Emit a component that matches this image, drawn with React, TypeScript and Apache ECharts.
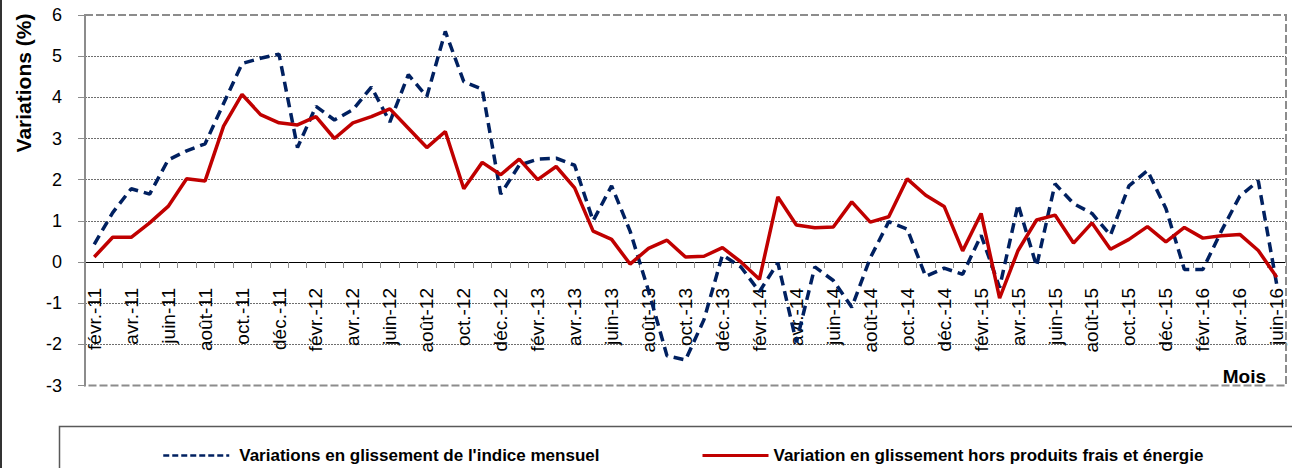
import React, { useEffect, useRef } from "react";
import * as echarts from "echarts";

const monthNames = ["janv.", "févr.", "mars", "avr.", "mai", "juin", "juil.", "août", "sept.", "oct.", "nov.", "déc."];
const startYear = 11;
const startMonth = 1; // févr.
const monthCount = 65; // févr.-11 .. juin-16

const categories: string[] = [];
for (let i = 0; i < monthCount; i++) {
  const m = (startMonth + i) % 12;
  const y = startYear + Math.floor((startMonth + i) / 12);
  categories.push(`${monthNames[m]}-${y}`);
}

const headlineName = "Variations en glissement de l'indice mensuel";
const coreName = "Variation en glissement hors produits frais et énergie";

const headline = [
  0.43, 1.2, 1.78, 1.65, 2.48, 2.7, 2.87, 3.85, 4.82, 4.95, 5.05, 2.78,
  3.78, 3.45, 3.7, 4.25, 3.4, 4.55, 4.02, 5.6, 4.38, 4.2, 1.65, 2.35,
  2.5, 2.52, 2.35, 1.0, 1.85, 0.75, -0.7, -2.28, -2.38, -1.4, 0.17, -0.12,
  -0.72, -0.02, -1.95, -0.12, -0.45, -1.1, 0.1, 0.98, 0.8, -0.35, -0.15, -0.3,
  0.65, -0.62, 1.4, -0.1, 1.9, 1.42, 1.18, 0.65, 1.85, 2.22, 1.3, -0.18,
  -0.18, 0.75, 1.6, 1.97, -0.55,
];

const core = [
  0.12, 0.6, 0.6, 0.95, 1.35, 2.02, 1.97, 3.3, 4.07, 3.58, 3.38, 3.33,
  3.53, 3.0, 3.38, 3.53, 3.72, 3.25, 2.78, 3.17, 1.78, 2.42, 2.12, 2.5,
  2.0, 2.32, 1.8, 0.75, 0.55, -0.05, 0.33, 0.53, 0.12, 0.14, 0.35, 0.0,
  -0.42, 1.58, 0.9, 0.83, 0.85, 1.46, 0.97, 1.1, 2.02, 1.62, 1.35, 0.27,
  1.18, -0.88, 0.28, 1.02, 1.14, 0.46, 0.95, 0.31, 0.55, 0.86, 0.49, 0.84,
  0.58, 0.64, 0.67, 0.28, -0.37,
];

const yMin = -3;
const yMax = 6;

const FONT = "'Liberation Sans', Arial, sans-serif";

const GRID_TOP = 15;
const GRID_BOTTOM = 82.5;
const CHART_H = 468;

export default function App() {
  const ref = useRef<HTMLDivElement>(null);
  useEffect(() => {
    if (!ref.current) return;
    const chart = echarts.init(ref.current, null, { renderer: "svg" });
    const gridColors: string[] = [];
    for (let v = yMin; v <= yMax; v++) {
      gridColors.push(v === yMin || v === yMax ? "rgba(0,0,0,0)" : "#6e6e6e");
    }
    // place the category axis line on the value 0 (axis crosses at zero)
    const plotH = CHART_H - GRID_TOP - GRID_BOTTOM;
    const zeroFromBottom = ((0 - yMin) / (yMax - yMin)) * plotH;
    chart.setOption({
      animation: false,
      backgroundColor: "#ffffff",
      grid: {
        left: 85,
        right: 6,
        top: GRID_TOP,
        bottom: GRID_BOTTOM,
        containLabel: false,
        outerBoundsMode: "none",
      },
      xAxis: {
        type: "category",
        data: categories,
        boundaryGap: true,
        position: "bottom",
        offset: -zeroFromBottom,
        axisLine: { onZero: false, lineStyle: { color: "#000000", width: 1 } },
        axisTick: { show: true, interval: 0, length: 6, lineStyle: { color: "#8c8c8c", width: 1 } },
        axisLabel: {
          interval: 1,
          rotate: 90,
          margin: 26,
          color: "#000000",
          fontFamily: FONT,
          fontSize: 19,
        },
        splitLine: { show: false },
      },
      yAxis: {
        type: "value",
        min: yMin,
        max: yMax,
        interval: 1,
        axisLine: { show: true, onZero: false, lineStyle: { color: "#8c8c8c", width: 2 } },
        axisTick: { show: true, length: 7, lineStyle: { color: "#8c8c8c", width: 1 } },
        axisLabel: { margin: 23, color: "#000000", fontFamily: FONT, fontSize: 18 },
        splitLine: { show: true, lineStyle: { color: gridColors, type: [2, 1], width: 1 } },
      },
      legend: [
        {
          data: [headlineName],
          left: 157,
          top: 442,
          itemWidth: 66,
          itemHeight: 14,
          lineStyle: { width: 2.5, type: [6, 3] },
          itemStyle: { color: "rgba(0,0,0,0)", borderWidth: 0, opacity: 0 },
          textStyle: { fontFamily: FONT, fontSize: 17, fontWeight: "bold", color: "#000000", padding: [0, 0, 0, 5] },
        },
        {
          data: [coreName],
          left: 696,
          top: 442,
          itemWidth: 66,
          itemHeight: 14,
          lineStyle: { width: 3 },
          itemStyle: { color: "rgba(0,0,0,0)", borderWidth: 0, opacity: 0 },
          textStyle: { fontFamily: FONT, fontSize: 17, fontWeight: "bold", color: "#000000", padding: [0, 0, 0, 0] },
        },
      ],
      graphic: [
        {
          type: "rect",
          z: 5,
          silent: true,
          shape: { x: 85, y: 15, width: 1201, height: 370.5 },
          style: { fill: "none", stroke: "#8c8c8c", lineWidth: 2, lineDash: [8, 3] },
        },
        {
          type: "rect",
          silent: true,
          shape: { x: 59.5, y: 426.5, width: 1300, height: 100 },
          style: { fill: "none", stroke: "#595959", lineWidth: 1.5 },
        },
        {
          type: "line",
          silent: true,
          shape: { x1: 1, y1: 0, x2: 1, y2: 468 },
          style: { stroke: "#333333", lineWidth: 2 },
        },
        {
          type: "text",
          silent: true,
          x: 23,
          y: 83,
          rotation: Math.PI / 2,
          style: {
            text: "Variations (%)",
            font: `bold 21px ${FONT}`,
            fill: "#000000",
            textAlign: "center",
            textVerticalAlign: "middle",
          },
        },
        {
          type: "text",
          silent: true,
          x: 1266,
          y: 386,
          style: {
            text: "Mois",
            font: `bold 19px ${FONT}`,
            fill: "#000000",
            textAlign: "right",
            textVerticalAlign: "bottom",
          },
        },
      ],
      series: [
        {
          name: headlineName,
          type: "line",
          data: headline,
          symbol: "none",
          z: 3,
          lineStyle: { color: "#002060", width: 3.5, type: [10, 6] },
          itemStyle: { color: "#002060" },
        },
        {
          name: coreName,
          type: "line",
          data: core,
          symbol: "none",
          z: 4,
          lineStyle: { color: "#C00000", width: 3.5 },
          itemStyle: { color: "#C00000" },
        },
      ],
    });
    return () => chart.dispose();
  }, []);
  return (
    <div
      ref={ref}
      style={{ position: "fixed", left: 0, top: 0, width: 1292, height: CHART_H, background: "#fff" }}
    />
  );
}
